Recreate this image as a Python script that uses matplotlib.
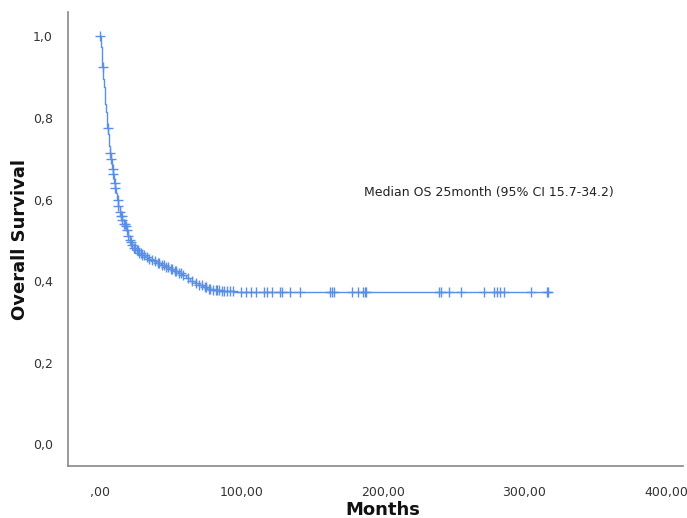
import matplotlib
import matplotlib.pyplot as plt
import numpy as np

matplotlib.use('Agg')

# Kaplan-Meier step values
event_times = [0, 0.7, 1.2, 1.8, 2.3, 2.8, 3.3, 3.8, 4.3, 4.8, 5.3, 5.8, 6.3, 6.8,
               7.3, 7.8, 8.3, 8.8, 9.3, 9.8, 10.3, 10.8, 11.5, 12, 13, 14, 15, 16, 17,
               18, 19, 20, 21, 22, 23, 24, 26, 28, 30, 32, 34, 36, 38, 40, 43, 46, 49,
               52, 55, 58, 61, 64, 67, 70, 73, 76, 80, 85, 95]
survival = [1.0, 0.975, 0.95, 0.925, 0.895, 0.875, 0.855, 0.835, 0.815, 0.795,
            0.775, 0.76, 0.745, 0.73, 0.715, 0.70, 0.688, 0.675, 0.663, 0.652,
            0.64, 0.628, 0.615, 0.60, 0.585, 0.57, 0.56, 0.55, 0.54, 0.535, 0.525,
            0.51, 0.50, 0.495, 0.488, 0.48, 0.475, 0.47, 0.465, 0.46, 0.455, 0.452,
            0.448, 0.445, 0.44, 0.435, 0.43, 0.425, 0.42, 0.415, 0.408, 0.40, 0.395,
            0.39, 0.385, 0.38, 0.378, 0.375, 0.373]
last_followup = 318

censor_times = [0.4, 2, 5.5, 7.5, 8, 9, 9.5, 10.5, 11, 12.5, 13, 14, 15, 15.5, 16, 17,
                17.5, 18.5, 19, 20, 21.5, 22, 23, 24, 25, 26, 27, 28, 29, 30, 31, 33,
                35, 37, 39, 41, 42, 44, 45, 47, 48, 50, 51, 53, 54, 56, 57, 59, 62, 65,
                68, 70, 72, 74, 75, 77, 78, 80, 82, 83, 84, 86, 88, 90, 92, 94, 99.4,
                103, 106.5, 110, 115.8, 118, 121.6, 127.5, 128.6, 134.5, 141.5, 162.6,
                163.7, 165.6, 178.2, 182.5, 186, 187.6, 188.3, 239.8, 241.4, 246.8,
                254.9, 271.4, 278.8, 280.7, 283, 285.4, 304.6, 316.3, 317]

xticks = [0, 100, 200, 300, 400]
xticklabels = [',00', '100,00', '200,00', '300,00', '400,00']
yticks = [0.0, 0.2, 0.4, 0.6, 0.8, 1.0]
yticklabels = ['0,0', '0,2', '0,4', '0,6', '0,8', '1,0']

color = '#5a8fe6'

fig = plt.figure(figsize=(6.87, 5.18), dpi=100)
ax = fig.add_axes([0.099, 0.1, 0.895, 0.877])

t = np.array(event_times + [last_followup])
s = np.array(survival + [survival[-1]])
ax.step(t, s, where='post', color=color, lw=1.0)

idx = np.searchsorted(event_times, censor_times, side='right') - 1
cens_s = np.array(survival)[idx]
ax.plot(censor_times, cens_s, '+', color=color, ms=6.5, mew=1.0)

ax.text(187, 0.617, 'Median OS 25month (95% CI 15.7-34.2)', fontsize=9,
        color='#222222', va='center', ha='left')

ax.set_xlim(-22.5, 412)
ax.set_ylim(-0.054, 1.06)
ax.set_xticks(xticks)
ax.set_xticklabels(xticklabels)
ax.set_yticks(yticks)
ax.set_yticklabels(yticklabels)
ax.tick_params(length=0, labelsize=9, labelcolor='#333333', pad=11)
ax.tick_params(axis='x', pad=14)

for side in ['top', 'right']:
    ax.spines[side].set_visible(False)
for side in ['left', 'bottom']:
    ax.spines[side].set_color('#888888')
    ax.spines[side].set_linewidth(1.2)

fig.text(383 / 687, 1 - 510 / 518, 'Months', fontsize=13, fontweight='bold',
         ha='center', va='center', color='#111111')
fig.text(20 / 687, 1 - 240 / 518, 'Overall Survival', fontsize=13, fontweight='bold',
         ha='center', va='center', rotation=90, color='#111111')

fig.savefig('out.png', dpi=100)
